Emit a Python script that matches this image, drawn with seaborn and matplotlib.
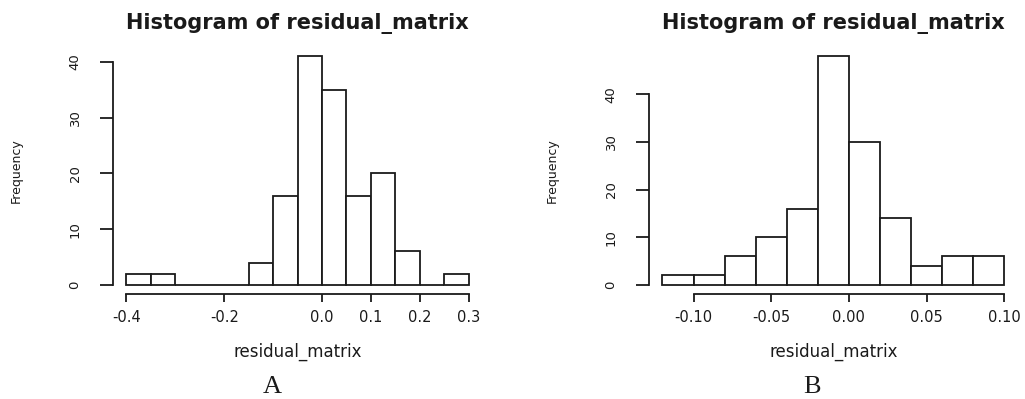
import matplotlib
matplotlib.use("Agg")
import matplotlib.pyplot as plt
import seaborn as sns

# panel A: bin edges and counts
edges_a = [-0.40, -0.35, -0.30, -0.25, -0.20, -0.15, -0.10, -0.05,
           0.00, 0.05, 0.10, 0.15, 0.20, 0.25, 0.30]
counts_a = [2, 2, 0, 0, 0, 4, 16, 41, 35, 16, 20, 6, 0, 2]
xticks_a = [-0.4, -0.2, 0.0, 0.1, 0.2, 0.3]
xlabels_a = ["-0.4", "-0.2", "0.0", "0.1", "0.2", "0.3"]

# panel B
edges_b = [-0.12, -0.10, -0.08, -0.06, -0.04, -0.02,
           0.00, 0.02, 0.04, 0.06, 0.08, 0.10]
counts_b = [2, 2, 6, 10, 16, 48, 30, 14, 4, 6, 6]
xticks_b = [-0.10, -0.05, 0.00, 0.05, 0.10]
xlabels_b = ["-0.10", "-0.05", "0.00", "0.05", "0.10"]

yticks = [0, 10, 20, 30, 40]
title = "Histogram of residual_matrix"
panel_names = ["A", "B"]

sns.set_style("white")
plt.rcParams["font.family"] = ["DejaVu Sans"]
ink = "#1a1a1a"

fig = plt.figure(figsize=(10.25, 3.99), dpi=100)
ax_a = fig.add_axes([0.110, 0.263, 0.3605, 0.619])
ax_b = fig.add_axes([0.633, 0.263, 0.360, 0.619])


def draw(ax, edges, counts, xticks, xlabels):
    centers = [(edges[i] + edges[i + 1]) / 2 for i in range(len(counts))]
    sns.histplot(x=centers, weights=counts, bins=edges, ax=ax,
                 color="white", edgecolor=ink, linewidth=1.3, alpha=1)
    lo, hi = edges[0], edges[-1]
    pad = (hi - lo) * 0.04
    top = max(counts)
    ax.set_xlim(lo - pad, hi + pad)
    ax.set_ylim(-top * 0.04, top * 1.04)
    for s in ["top", "right"]:
        ax.spines[s].set_visible(False)
    ax.spines["left"].set_bounds(yticks[0], yticks[-1])
    ax.spines["bottom"].set_bounds(xticks[0], xticks[-1])
    for s in ["left", "bottom"]:
        ax.spines[s].set_color(ink)
        ax.spines[s].set_linewidth(1.3)
    ax.set_xticks(xticks)
    ax.set_xticklabels(xlabels, fontsize=10.5, color=ink)
    ax.set_yticks(yticks)
    ax.set_yticklabels([str(v) for v in yticks], fontsize=9.5, color=ink,
                       rotation=90, va="center")
    ax.tick_params(axis="y", direction="out", length=9.5, width=1.3,
                   color=ink, pad=13, left=True)
    ax.tick_params(axis="x", direction="out", length=5.5, width=1.3,
                   color=ink, pad=6, bottom=True)
    ax.set_xlabel("residual_matrix", fontsize=12, color=ink)
    ax.set_ylabel("Frequency", fontsize=9, color=ink)
    ax.xaxis.set_label_coords(0.5, -0.198)
    ax.yaxis.set_label_coords(-0.244, 0.5)
    ax.set_title(title, fontsize=15, fontweight="bold", color=ink, pad=13)


draw(ax_a, edges_a, counts_a, xticks_a, xlabels_a)
draw(ax_b, edges_b, counts_b, xticks_b, xlabels_b)

fig.text(272 / 1025, 1 - 387 / 399, panel_names[0], family="Liberation Serif",
         fontsize=19, ha="center", va="center", color=ink)
fig.text(812 / 1025, 1 - 387 / 399, panel_names[1], family="Liberation Serif",
         fontsize=19, ha="center", va="center", color=ink)

fig.savefig("out.png", dpi=100, facecolor="white")
